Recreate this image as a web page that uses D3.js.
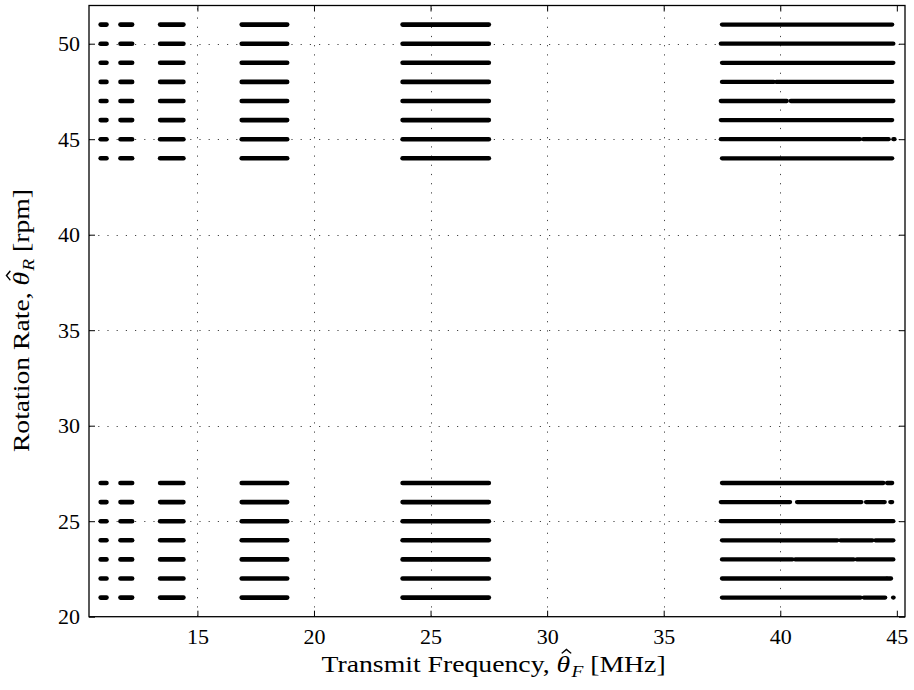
<!DOCTYPE html>
<html><head><meta charset="utf-8">
<script src="https://cdn.jsdelivr.net/npm/d3@7"></script>
<style>
body{margin:0;background:#fff;}
text{font-family:"Liberation Serif","Times New Roman",serif !important;fill:#000;}
</style></head>
<body><svg id="chart" width="914" height="690"></svg>
<script>
// ---- data ----
const xTicks = [15, 20, 25, 30, 35, 40, 45];
const yTicks = [20, 25, 30, 35, 40, 45, 50];
const xDomain = [10.35, 45.35];
const yDomain = [20, 52];
// rotation rates (rpm) that were observed
const lowRates = [21, 22, 23, 24, 25, 26, 27];
const highRates = [44, 45, 46, 47, 48, 49, 50, 51];
// transmit-frequency bands (MHz) swept continuously for every rate
const denseBands = [[10.85, 11.1], [11.7, 12.2], [13.4, 14.4], [16.9, 18.85], [23.8, 27.5]];
// highest band is sparser: segments per rate (small gaps visible)
const sparseRates = [21, 22, 23, 24, 25, 26, 27, 44, 45, 46, 47, 48, 49, 50, 51];
const sparseSegments = [
  [[37.5, 43.45], [43.58, 44.5], [44.84, 44.86]],
  [[37.5, 44.55], [44.6, 44.75]],
  [[37.5, 40.52], [40.64, 43.15], [43.28, 44.85]],
  [[37.5, 42.45], [42.58, 43.95], [44.08, 44.85]],
  [[37.45, 44.85]],
  [[37.45, 40.42], [40.72, 43.48], [43.68, 44.48], [44.72, 44.8]],
  [[37.5, 44.42], [44.58, 44.8]],
  [[37.5, 44.8]],
  [[37.45, 43.42], [43.56, 44.65], [44.85, 44.9]],
  [[37.45, 44.8]],
  [[37.45, 40.28], [40.45, 44.85]],
  [[37.5, 39.72], [39.83, 44.8]],
  [[37.5, 44.85]],
  [[37.45, 44.85]],
  [[37.5, 44.8]]
];

// ---- layout ----
const svg = d3.select("#chart");
const L = 89, R = 905, T = 5.5, B = 616.7;
const x = d3.scaleLinear().domain(xDomain).range([L, R]);
const y = d3.scaleLinear().domain(yDomain).range([B, T]);

// grid
const grid = svg.append("g").attr("stroke", "#444").attr("stroke-width", 1).attr("stroke-dasharray", "1.2,8");
grid.selectAll(".gx").data(xTicks.filter(d => d < xDomain[1] - 0.5)).join("line")
  .attr("x1", d => Math.round(x(d)) + 0.5).attr("x2", d => Math.round(x(d)) + 0.5)
  .attr("y1", B).attr("y2", T);
grid.selectAll(".gy").data(yTicks.filter(d => d > yDomain[0])).join("line")
  .attr("y1", d => Math.round(y(d)) + 0.5).attr("y2", d => Math.round(y(d)) + 0.5)
  .attr("x1", L).attr("x2", R);

// data marks
const allRates = lowRates.concat(highRates);
const marks = svg.append("g").attr("stroke", "#000").attr("stroke-linecap", "round").attr("fill", "none");
const denseRows = [];
denseBands.forEach(b => allRates.forEach(r => denseRows.push({r, a: b[0], b: b[1]})));
marks.selectAll(".dense").data(denseRows).join("line")
  .attr("stroke-width", 4.6)
  .attr("x1", d => x(d.a)).attr("x2", d => x(d.b))
  .attr("y1", d => y(d.r)).attr("y2", d => y(d.r));
const sparseRows = [];
sparseRates.forEach((r, i) => sparseSegments[i].forEach(s => sparseRows.push({r, a: s[0], b: s[1]})));
marks.selectAll(".sparse").data(sparseRows).join("line")
  .attr("stroke-width", 4.3)
  .attr("x1", d => x(d.a)).attr("x2", d => x(d.b))
  .attr("y1", d => y(d.r)).attr("y2", d => y(d.r));

// axes (inward ticks on all four sides)
const tk = 6;
const fmt = d3.format("d");
svg.append("g").attr("transform", `translate(0,${B})`)
  .call(d3.axisBottom(x).tickValues(xTicks).tickSize(-tk).tickPadding(12).tickFormat(fmt))
  .call(g => g.select(".domain").remove());
svg.append("g").attr("transform", `translate(0,${T})`)
  .call(d3.axisTop(x).tickValues(xTicks).tickSize(-tk).tickFormat(""))
  .call(g => g.select(".domain").remove());
svg.append("g").attr("transform", `translate(${L},0)`)
  .call(d3.axisLeft(y).tickValues(yTicks).tickSize(-tk).tickPadding(9).tickFormat(fmt))
  .call(g => g.select(".domain").remove());
svg.append("g").attr("transform", `translate(${R},0)`)
  .call(d3.axisRight(y).tickValues(yTicks).tickSize(-tk).tickFormat(""))
  .call(g => g.select(".domain").remove());
svg.selectAll("g").attr("font-family", null);
svg.selectAll(".tick line").attr("stroke", "#000").attr("stroke-width", 1);
svg.selectAll(".tick text").attr("font-size", 22).style("font-family", "'Liberation Serif', serif");

// frame
svg.append("rect").attr("x", L).attr("y", T).attr("width", R - L).attr("height", B - T)
  .attr("fill", "none").attr("stroke", "#000").attr("stroke-width", 1.3);

// axis titles with hatted theta and subscript
function mathTitle(parent, before, sub, after, fs) {
  const t = parent.append("text").attr("text-anchor", "start").attr("font-size", fs);
  t.append("tspan").text(before);
  t.append("tspan").attr("font-style", "italic").text("θ");
  t.append("tspan").attr("font-style", "italic").attr("font-size", fs * 0.7).attr("dy", fs * 0.22).attr("dx", 1).text(sub);
  t.append("tspan").attr("dy", -fs * 0.22).text(" " + after);
  const node = t.node();
  const idx = before.length;
  const s = node.getStartPositionOfChar(idx), e = node.getEndPositionOfChar(idx);
  const cx = (s.x + e.x) / 2 + 2.5, top = s.y - fs * 0.98, h = fs * 0.17, w = fs * 0.17;
  parent.append("path")
    .attr("d", `M${cx - w},${top + h} L${cx},${top} L${cx + w},${top + h}`)
    .attr("fill", "none").attr("stroke", "#000").attr("stroke-width", 1.3).attr("stroke-linejoin", "miter");
  return node.getComputedTextLength();
}

const xg = svg.append("g");
const xw = mathTitle(xg, "Transmit Frequency, ", "F", "[MHz]", 23);
const xTarget = 343, xsx = xTarget / xw;
xg.attr("transform", `translate(${(L + R) / 2 - 4 - xTarget / 2},672) scale(${xsx},1)`);

const yg = svg.append("g");
const yw = mathTitle(yg, "Rotation Rate, ", "R", "[rpm]", 23);
const yTarget = 262, ysx = yTarget / yw;
yg.attr("transform", `translate(29,${(T + B) / 2 + 10 + yTarget / 2}) rotate(-90) scale(${ysx},1)`);
</script>
</body></html>
